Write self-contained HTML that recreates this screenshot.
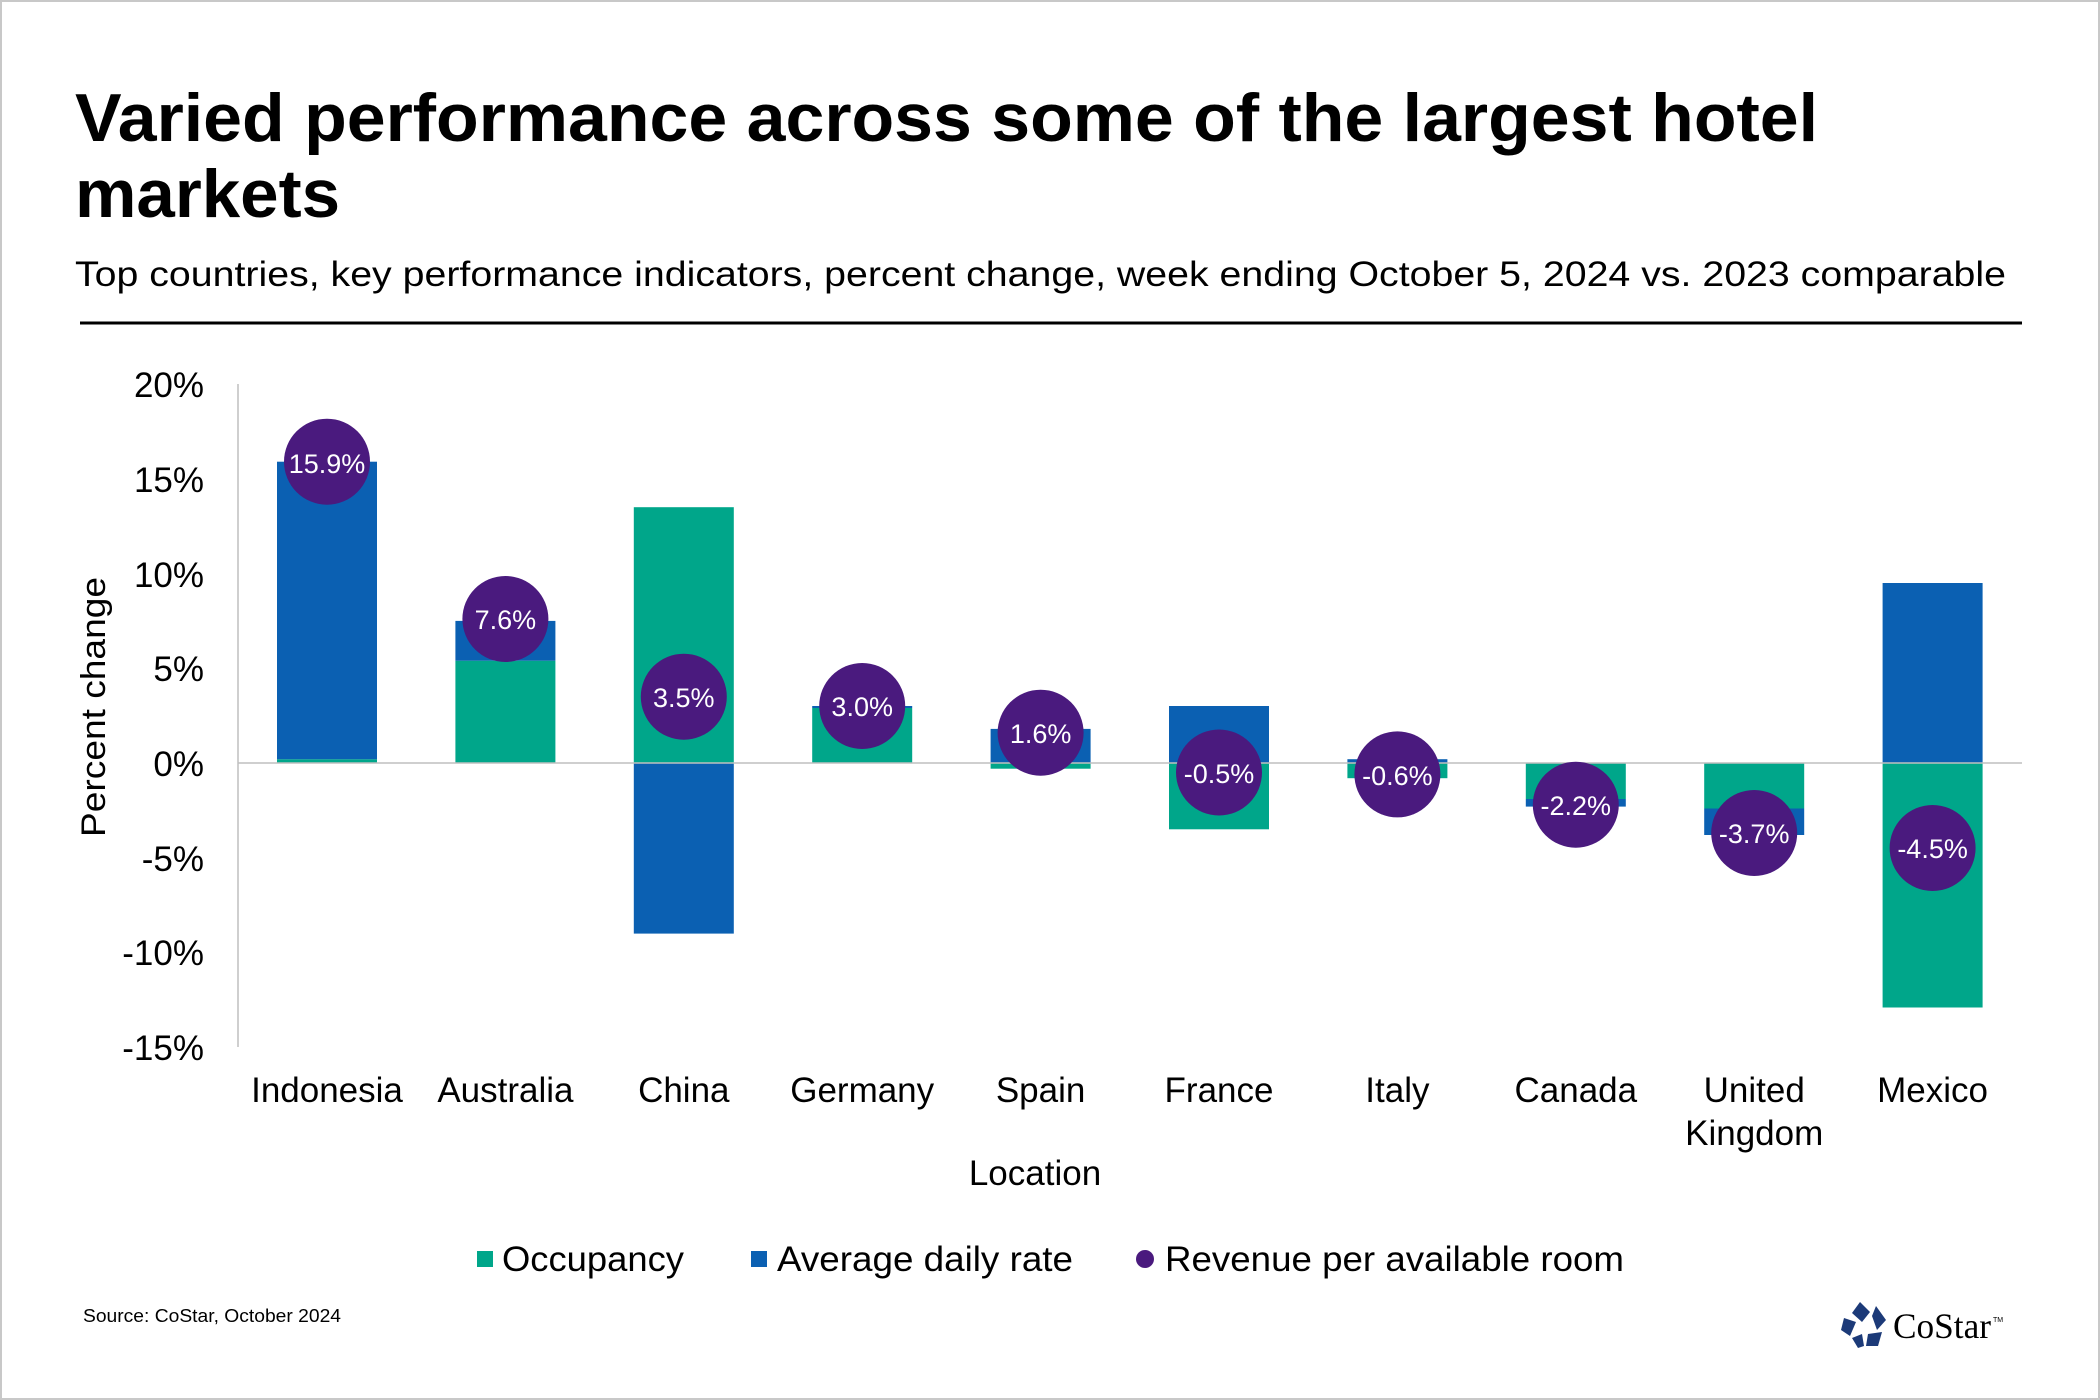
<!DOCTYPE html>
<html><head><meta charset="utf-8"><style>
html,body{margin:0;padding:0;background:#fff}
svg{display:block}
.s{font-family:"Liberation Sans",Arial,sans-serif}
</style></head><body>
<svg width="2100" height="1400" viewBox="0 0 2100 1400" xmlns="http://www.w3.org/2000/svg" class="s">
<rect x="1" y="1" width="2098" height="1398" fill="#fff" stroke="#c8c8c8" stroke-width="2"/>
<text x="75" y="141" font-size="68" font-weight="bold" fill="#000" textLength="1743" lengthAdjust="spacingAndGlyphs">Varied performance across some of the largest hotel</text>
<text x="75" y="217" font-size="68" font-weight="bold" fill="#000" textLength="265" lengthAdjust="spacingAndGlyphs">markets</text>
<text x="75" y="286" font-size="35" fill="#000" textLength="1931" lengthAdjust="spacingAndGlyphs">Top countries, key performance indicators, percent change, week ending October 5, 2024 vs. 2023 comparable</text>
<line x1="80" y1="323" x2="2022" y2="323" stroke="#000" stroke-width="3"/>
<line x1="238" y1="384" x2="238" y2="1047" stroke="#bfbfbf" stroke-width="1.5"/>
<g font-size="35" fill="#000" text-anchor="end">
<text x="204" y="397">20%</text>
<text x="204" y="492">15%</text>
<text x="204" y="587">10%</text>
<text x="204" y="681">5%</text>
<text x="204" y="776">0%</text>
<text x="204" y="871">-5%</text>
<text x="204" y="965">-10%</text>
<text x="204" y="1060">-15%</text>
</g>
<text transform="translate(105,707) rotate(-90)" font-size="34" text-anchor="middle" fill="#000" textLength="260" lengthAdjust="spacingAndGlyphs">Percent change</text>
<g fill="#00a68a">
<rect x="277" y="759.2" width="100" height="3.8"/>
<rect x="455.4" y="660.7" width="100" height="102.3"/>
<rect x="633.8" y="507.2" width="100" height="255.8"/>
<rect x="812.2" y="708" width="100" height="55"/>
<rect x="990.6" y="763" width="100" height="5.7"/>
<rect x="1169" y="763" width="100" height="66.3"/>
<rect x="1347.4" y="763" width="100" height="15.2"/>
<rect x="1525.8" y="763" width="100" height="36"/>
<rect x="1704.2" y="763" width="100" height="45.5"/>
<rect x="1882.6" y="763" width="100" height="244.5"/>
</g>
<g fill="#0b60b2">
<rect x="277" y="461.7" width="100" height="297.5"/>
<rect x="455.4" y="620.9" width="100" height="39.8"/>
<rect x="633.8" y="763" width="100" height="170.6"/>
<rect x="812.2" y="706" width="100" height="2"/>
<rect x="990.6" y="728.9" width="100" height="34.1"/>
<rect x="1169" y="706" width="100" height="57"/>
<rect x="1347.4" y="759.2" width="100" height="3.8"/>
<rect x="1525.8" y="799" width="100" height="7.6"/>
<rect x="1704.2" y="808.5" width="100" height="26.5"/>
<rect x="1882.6" y="583" width="100" height="180"/>
</g>
<line x1="238" y1="763" x2="2022" y2="763" stroke="#bfbfbf" stroke-width="1.5"/>
<g fill="#4a1a7e">
<circle cx="327" cy="461.7" r="43"/>
<circle cx="505.4" cy="619" r="43"/>
<circle cx="683.8" cy="696.7" r="43"/>
<circle cx="862.2" cy="706" r="43"/>
<circle cx="1040.6" cy="732.7" r="43"/>
<circle cx="1219" cy="772.5" r="43"/>
<circle cx="1397.4" cy="774.4" r="43"/>
<circle cx="1575.8" cy="804.7" r="43"/>
<circle cx="1754.2" cy="833" r="43"/>
<circle cx="1932.6" cy="848" r="43"/>
</g>
<g font-size="27" fill="#fff" text-anchor="middle">
<text x="327" y="473">15.9%</text>
<text x="505.4" y="629">7.6%</text>
<text x="683.8" y="707">3.5%</text>
<text x="862.2" y="716">3.0%</text>
<text x="1040.6" y="743">1.6%</text>
<text x="1219" y="783">-0.5%</text>
<text x="1397.4" y="785">-0.6%</text>
<text x="1575.8" y="815">-2.2%</text>
<text x="1754.2" y="843">-3.7%</text>
<text x="1932.6" y="858">-4.5%</text>
</g>
<g font-size="35" fill="#000" text-anchor="middle">
<text x="327" y="1102">Indonesia</text>
<text x="505.4" y="1102">Australia</text>
<text x="683.8" y="1102">China</text>
<text x="862.2" y="1102">Germany</text>
<text x="1040.6" y="1102">Spain</text>
<text x="1219" y="1102">France</text>
<text x="1397.4" y="1102">Italy</text>
<text x="1575.8" y="1102">Canada</text>
<text x="1754.2" y="1102">United</text>
<text x="1754.2" y="1145">Kingdom</text>
<text x="1932.6" y="1102">Mexico</text>
<text x="1035" y="1185">Location</text>
</g>
<rect x="477" y="1251" width="16" height="16" fill="#00a68a"/>
<text x="502" y="1271" font-size="35" fill="#000" textLength="182" lengthAdjust="spacingAndGlyphs">Occupancy</text>
<rect x="751" y="1251" width="16" height="16" fill="#0b60b2"/>
<text x="777" y="1271" font-size="35" fill="#000" textLength="296" lengthAdjust="spacingAndGlyphs">Average daily rate</text>
<circle cx="1145" cy="1259" r="9" fill="#4a1a7e"/>
<text x="1165" y="1271" font-size="35" fill="#000" textLength="459" lengthAdjust="spacingAndGlyphs">Revenue per available room</text>
<text x="83" y="1322" font-size="18" fill="#000" textLength="258" lengthAdjust="spacingAndGlyphs">Source: CoStar, October 2024</text>
<g fill="#1c3a78">
<polygon points="1860,1302 1870,1312 1862,1322 1852,1313"/>
<polygon points="1876,1306 1886,1320 1877,1330 1872,1316"/>
<polygon points="1844,1318 1856,1322 1850,1336 1841,1330"/>
<polygon points="1868,1334 1882,1332 1878,1346 1866,1346"/>
<polygon points="1852,1338 1862,1334 1864,1346 1858,1348"/>
</g>
<text x="1893" y="1338" font-size="36" style="font-family:'Liberation Serif',serif" fill="#000" textLength="98" lengthAdjust="spacingAndGlyphs">CoStar</text>
<text x="1993" y="1322" font-size="7" fill="#000">TM</text>
</svg>
</body></html>
